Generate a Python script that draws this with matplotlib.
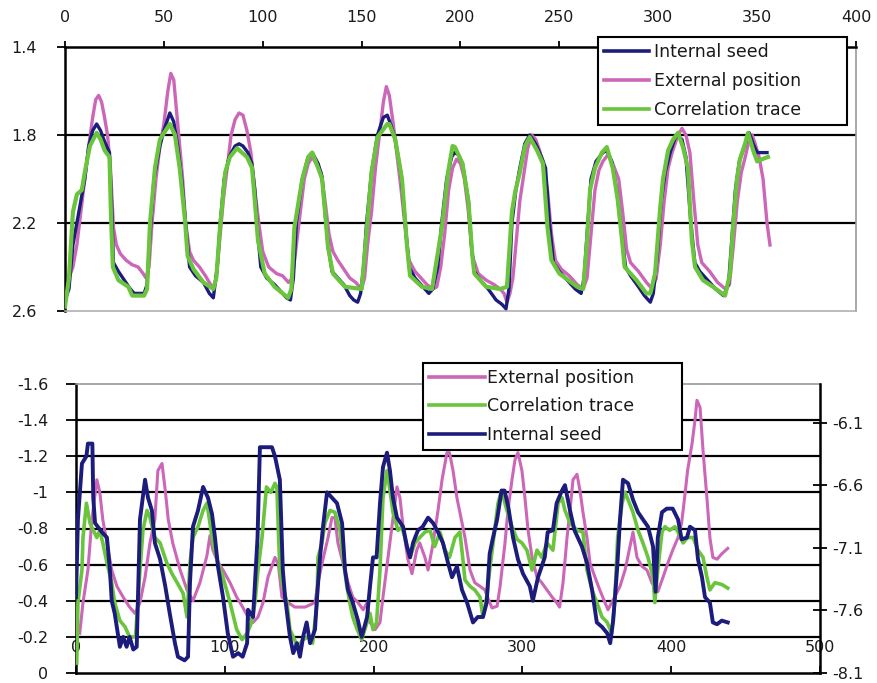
import matplotlib
matplotlib.use("Agg")
import matplotlib.pyplot as plt

plt.rcParams['font.family'] = ['DejaVu Sans']

# ---------------- data: top panel (x, value) ----------------
top_labels = ["Internal seed", "External position", "Correlation trace"]

top_internal = [
    (0, 2.55), (2, 2.5), (4, 2.3), (6, 2.2), (8, 2.1), (10, 2.0), (12, 1.85), (14, 1.78), (16, 1.75),
    (18, 1.78), (20, 1.83), (22.5, 1.88), (23.5, 2.1), (24.5, 2.38), (27, 2.42), (30, 2.46), (33, 2.5),
    (35, 2.52), (40, 2.52), (41.5, 2.48), (43, 2.25), (45, 2.0), (48, 1.85), (50, 1.78), (53, 1.70),
    (55, 1.74), (57, 1.85), (59, 2.0), (61, 2.2), (63, 2.4), (66, 2.44), (70, 2.47), (73, 2.52),
    (75, 2.54), (77, 2.4), (78.5, 2.2), (80.5, 2.0), (83, 1.9), (86, 1.85), (88, 1.84), (90, 1.85),
    (92.5, 1.88), (94.5, 1.93), (96, 2.05), (97.5, 2.25), (99, 2.4), (102, 2.45), (106, 2.48),
    (109, 2.51), (112, 2.54), (114, 2.55), (115.5, 2.45), (117, 2.2), (120, 2.0), (123, 1.9),
    (125, 1.88), (128, 1.93), (130, 1.99), (131.5, 2.15), (133, 2.3), (135, 2.42), (138, 2.45),
    (141, 2.48), (144, 2.53), (146, 2.55), (148, 2.56), (149.5, 2.52), (151, 2.4), (152.5, 2.2),
    (155, 1.97), (158, 1.8), (161, 1.72), (163, 1.71), (165, 1.76), (167, 1.82), (170, 1.98),
    (172.5, 2.25), (174, 2.4), (177, 2.45), (181, 2.49), (184, 2.52), (186, 2.5), (188.5, 2.4),
    (190.5, 2.2), (193, 2.0), (195.5, 1.9), (197, 1.88), (199, 1.89), (201, 1.93), (204, 2.1),
    (205.5, 2.3), (207, 2.42), (210, 2.46), (214, 2.5), (218, 2.55), (221, 2.57), (223, 2.59),
    (224.5, 2.5), (226, 2.2), (228, 2.05), (230, 1.95), (232.5, 1.84), (235, 1.8), (238, 1.84),
    (241, 1.9), (243, 1.95), (245, 2.2), (247, 2.38), (250, 2.42), (254, 2.46), (258, 2.5),
    (261, 2.52), (262.5, 2.45), (264, 2.25), (266, 2.0), (268.5, 1.92), (272, 1.88), (274, 1.87),
    (276.5, 1.92), (279, 2.05), (281.5, 2.25), (283.5, 2.4), (286, 2.44), (290, 2.49), (293, 2.53),
    (296, 2.56), (297.5, 2.52), (299.5, 2.35), (301.5, 2.1), (303.5, 1.97), (306, 1.88), (309, 1.8),
    (312, 1.82), (314, 1.9), (316.5, 2.2), (318.5, 2.38), (321, 2.42), (325, 2.46), (329, 2.5),
    (333, 2.53), (335.5, 2.48), (337, 2.3), (339, 2.05), (341, 1.92), (344, 1.84), (346, 1.79),
    (348, 1.84), (350, 1.88), (352, 1.88), (355, 1.88),
]

top_external = [
    (0, 2.5), (2, 2.45), (4, 2.4), (6, 2.3), (8, 2.15), (10, 2.0), (12, 1.85), (14, 1.72), (15.5, 1.64),
    (17, 1.62), (18.5, 1.65), (20, 1.72), (21.5, 1.8), (23, 1.95), (24.5, 2.22), (26, 2.3), (28, 2.34),
    (31, 2.37), (34, 2.39), (37, 2.4), (39.5, 2.43), (41, 2.45), (42.5, 2.4), (44, 2.2), (46, 2.0),
    (48, 1.85), (50, 1.75), (52, 1.6), (53.5, 1.52), (55, 1.55), (56.5, 1.7), (58, 1.85), (59.5, 2.0),
    (61, 2.2), (63, 2.33), (65, 2.37), (68, 2.4), (71, 2.44), (73, 2.47), (75, 2.5), (76.5, 2.45),
    (78, 2.3), (80, 2.1), (82, 1.95), (84, 1.8), (86, 1.73), (88, 1.7), (90, 1.71), (92, 1.78),
    (94, 1.88), (96, 2.05), (98, 2.2), (100, 2.33), (103, 2.4), (107, 2.43), (110, 2.44), (113, 2.47),
    (115, 2.45), (117, 2.3), (119, 2.15), (121, 2.0), (123, 1.93), (125, 1.9), (127, 1.93),
    (129.5, 1.97), (131.5, 2.1), (133.5, 2.25), (135.5, 2.33), (138, 2.37), (141, 2.41), (144, 2.45),
    (147, 2.47), (150, 2.5), (151.5, 2.45), (153, 2.3), (155, 2.15), (157, 1.95), (159, 1.8),
    (161, 1.65), (162.5, 1.58), (164, 1.62), (166, 1.75), (168, 1.9), (170, 2.05), (172, 2.22),
    (174, 2.37), (177, 2.42), (180, 2.45), (183, 2.48), (186, 2.5), (188, 2.49), (190, 2.4),
    (192, 2.25), (194, 2.05), (196, 1.95), (198, 1.91), (200, 1.93), (202, 2.0), (204, 2.15),
    (206, 2.35), (209, 2.43), (213, 2.46), (217, 2.48), (220, 2.5), (222, 2.52), (223.5, 2.56),
    (225, 2.52), (226.5, 2.45), (228, 2.3), (230, 2.1), (232, 1.98), (234, 1.86), (236, 1.8),
    (238, 1.82), (240, 1.87), (242, 1.95), (244, 2.05), (246, 2.25), (248, 2.37), (251, 2.41),
    (255, 2.44), (259, 2.48), (262, 2.5), (264, 2.45), (266, 2.25), (268, 2.05), (270, 1.96),
    (272, 1.92), (274.5, 1.89), (277, 1.93), (280, 2.0), (282, 2.15), (284, 2.32), (286, 2.38),
    (290, 2.42), (294, 2.47), (297, 2.5), (299, 2.45), (301, 2.3), (303, 2.1), (305, 1.95),
    (307, 1.88), (310, 1.8), (312, 1.77), (314, 1.8), (316, 1.88), (318, 2.1), (320, 2.3), (322, 2.38),
    (326, 2.42), (330, 2.47), (334, 2.5), (336, 2.48), (338, 2.3), (340, 2.1), (342, 1.97), (344, 1.9),
    (346, 1.82), (347.5, 1.8), (349, 1.84), (351, 1.9), (353, 2.0), (354, 2.1), (355, 2.2), (356.5, 2.3),
]

top_correlation = [
    (0, 2.58), (2, 2.45), (4, 2.15), (6, 2.07), (8.5, 2.05), (10, 1.97), (12.6, 1.85), (16, 1.79),
    (18, 1.82), (20, 1.87), (22.5, 1.9), (23.2, 2.15), (24.2, 2.4), (27, 2.46), (32, 2.49), (34, 2.53),
    (40, 2.53), (41.5, 2.5), (43, 2.2), (45.5, 1.95), (48, 1.82), (53, 1.75), (55.6, 1.8), (58, 1.95),
    (60.7, 2.19), (62, 2.35), (65, 2.41), (70, 2.47), (75, 2.5), (76.5, 2.45), (78.4, 2.22), (81, 1.97),
    (83.4, 1.9), (87, 1.86), (89.5, 1.88), (92, 1.9), (94.6, 1.95), (96, 2.1), (97.6, 2.28), (101, 2.43),
    (106, 2.49), (112.8, 2.54), (114.5, 2.5), (116, 2.22), (120, 2.0), (123, 1.9), (125, 1.88),
    (128, 1.95), (130, 2.0), (131.5, 2.15), (133, 2.31), (135.5, 2.43), (141.6, 2.49), (150, 2.5),
    (152.7, 2.22), (155, 1.97), (158, 1.81), (163, 1.75), (164, 1.75), (167, 1.82), (170.4, 2.0),
    (173, 2.31), (174.5, 2.44), (180.5, 2.49), (185.6, 2.5), (190.6, 2.22), (193.7, 1.97), (196, 1.85),
    (197.2, 1.855), (201, 1.93), (204, 2.1), (206, 2.35), (207, 2.43), (213, 2.49), (220, 2.5),
    (223.5, 2.49), (226, 2.15), (227.6, 2.06), (230, 1.97), (232.6, 1.85), (235, 1.81), (238.7, 1.87),
    (241.7, 1.93), (244, 2.22), (246, 2.37), (250, 2.43), (259, 2.49), (262, 2.5), (264, 2.28),
    (265.5, 2.05), (268, 1.95), (271.5, 1.88), (274, 1.855), (277, 1.95), (279.6, 2.1), (281.7, 2.28),
    (283, 2.4), (289, 2.46), (294, 2.52), (296, 2.52), (298.4, 2.43), (301, 2.13), (302.4, 2.0),
    (305, 1.87), (307.5, 1.82), (310, 1.79), (312.5, 1.855), (315, 1.95), (317, 2.28), (318.6, 2.4),
    (322.6, 2.46), (327.7, 2.49), (333.8, 2.53), (336.3, 2.43), (337.8, 2.22), (339.8, 2.0),
    (341.3, 1.91), (343.9, 1.84), (345.4, 1.79), (348, 1.87), (350, 1.92), (352.5, 1.91), (355.5, 1.9),
]

top_xticks = [0, 50, 100, 150, 200, 250, 300, 350, 400]
top_yticks = [1.4, 1.8, 2.2, 2.6]
top_ytick_labels = ["1.4", "1.8", "2.2", "2.6"]
top_grid = [1.8, 2.2]

# ---------------- data: bottom panel (x, value) ----------------
bottom_labels = ["External position", "Correlation trace", "Internal seed"]

bottom_internal = [
    (0, -0.42), (1.3, -0.85), (4, -1.16), (7, -1.2), (8, -1.27), (11, -1.27), (11.6, -0.97),
    (12.8, -0.83), (17.4, -0.78), (20.8, -0.75), (22.8, -0.57), (24, -0.4), (26, -0.33),
    (29.5, -0.145), (31.7, -0.2), (34, -0.145), (36, -0.2), (38.5, -0.13), (40.8, -0.145),
    (43, -0.85), (46.4, -1.07), (48.4, -0.97), (51, -0.9), (53, -0.72), (56.5, -0.63), (60, -0.48),
    (63, -0.33), (66.5, -0.165), (68.5, -0.09), (73, -0.07), (75.3, -0.09), (76.6, -0.5),
    (78.6, -0.81), (82, -0.9), (85.4, -1.03), (88.7, -0.97), (91.4, -0.88), (93.4, -0.75),
    (95.4, -0.59), (98.8, -0.42), (102, -0.22), (105.5, -0.09), (109, -0.11), (112, -0.09),
    (115, -0.165), (115.6, -0.35), (119, -0.31), (122, -0.75), (123.6, -1.25), (128, -1.25),
    (131.7, -1.25), (133.7, -1.2), (137, -1.07), (139, -0.57), (140.5, -0.42), (143.8, -0.2),
    (146, -0.11), (148.5, -0.165), (150.5, -0.09), (152.6, -0.2), (155, -0.28), (157.3, -0.165),
    (160.6, -0.24), (162, -0.42), (164, -0.64), (166, -0.81), (168.7, -1.0), (172, -0.97),
    (175.4, -0.94), (178.8, -0.83), (180.8, -0.57), (182.8, -0.46), (186, -0.39), (189.5, -0.29),
    (192, -0.2), (195.6, -0.31), (197.6, -0.48), (199.6, -0.64), (202, -0.64), (204.3, -0.94),
    (206.3, -1.14), (209, -1.22), (211, -1.12), (213, -0.97), (215.7, -0.86), (219.8, -0.81),
    (222.4, -0.7), (224.5, -0.64), (226.5, -0.72), (229.8, -0.79), (233, -0.81), (236.6, -0.86),
    (240, -0.83), (243.3, -0.78), (246.6, -0.72), (250, -0.61), (252.7, -0.53), (256, -0.59),
    (259.4, -0.46), (262.8, -0.39), (266.8, -0.28), (270, -0.31), (273.5, -0.31), (276, -0.39),
    (278, -0.66), (280, -0.74), (283, -0.85), (286, -1.01), (288, -1.01), (290.5, -0.92),
    (293.7, -0.75), (297, -0.63), (300.4, -0.55), (305, -0.48), (307, -0.4), (310.5, -0.53),
    (315, -0.64), (317, -0.78), (320.5, -0.79), (323, -0.94), (326.6, -1.01), (328.6, -1.04),
    (332, -0.9), (335, -0.79), (340, -0.7), (343.4, -0.61), (346.8, -0.46), (350, -0.28),
    (353.5, -0.255), (357, -0.22), (359, -0.165), (361, -0.29), (363.6, -0.57), (365.6, -0.85),
    (367.6, -1.07), (371, -1.05), (374.3, -0.96), (377.7, -0.89), (381, -0.85), (384.4, -0.81),
    (387.8, -0.7), (389.5, -0.45), (391, -0.75), (393.8, -0.89), (397, -0.91), (401, -0.91),
    (404.6, -0.85), (407, -0.74), (410.6, -0.75), (412.6, -0.81), (416, -0.79), (418, -0.63),
    (420.7, -0.53), (422.7, -0.42), (426, -0.39), (428, -0.28), (430.8, -0.27), (434, -0.29),
    (438, -0.28),
]

bottom_correlation = [
    (0.5, -0.055), (1.3, -0.39), (4, -0.57), (4.7, -0.75), (7, -0.94), (9.4, -0.83), (11.6, -0.79),
    (14, -0.75), (16, -0.79), (18, -0.72), (20.8, -0.61), (24, -0.5), (26, -0.39), (29.5, -0.29),
    (33, -0.255), (36, -0.2), (40, -0.2), (43, -0.57), (45, -0.79), (47.7, -0.9), (49.7, -0.86),
    (53, -0.75), (56.5, -0.72), (61, -0.61), (64.5, -0.55), (68, -0.5), (72, -0.44), (74.6, -0.31),
    (76.6, -0.61), (78.6, -0.75), (82, -0.81), (85.4, -0.9), (88, -0.94), (90, -0.83), (92, -0.72),
    (95.4, -0.61), (98.8, -0.53), (103.5, -0.39), (108, -0.24), (111.6, -0.185), (115, -0.22),
    (118, -0.28), (120.3, -0.39), (122.3, -0.57), (125, -0.75), (127, -0.94), (128, -1.03),
    (131, -1.0), (133.7, -1.05), (135, -1.03), (136, -0.79), (137, -0.57), (139, -0.48),
    (141.8, -0.39), (143.8, -0.24), (146, -0.2), (149, -0.145), (152.6, -0.185), (156, -0.2),
    (159, -0.165), (162, -0.39), (162.6, -0.64), (165.3, -0.72), (167.3, -0.83), (170.7, -0.9),
    (174, -0.89), (177.4, -0.79), (179.4, -0.64), (182, -0.48), (184, -0.39), (186, -0.31),
    (189, -0.24), (192, -0.185), (195.6, -0.28), (197.6, -0.33), (199.6, -0.24), (202, -0.28),
    (204.3, -0.57), (206.3, -0.97), (209, -1.12), (211, -1.01), (213, -0.89), (216.4, -0.79),
    (219, -0.81), (221, -0.75), (224.5, -0.64), (227.8, -0.72), (231, -0.75), (234.5, -0.78),
    (238, -0.79), (241, -0.7), (244.6, -0.78), (248, -0.68), (251, -0.64), (254.7, -0.75),
    (258, -0.78), (260, -0.63), (261.4, -0.515), (264.8, -0.48), (268, -0.46), (271.5, -0.42),
    (273.5, -0.31), (276, -0.42), (278, -0.57), (280, -0.7), (283.6, -0.94), (286, -1.01),
    (289.6, -0.9), (293, -0.81), (296.4, -0.74), (299.7, -0.72), (303, -0.68), (306.5, -0.57),
    (309.8, -0.68), (313, -0.64), (316.5, -0.72), (320.5, -0.68), (324, -0.94), (326.6, -0.97),
    (328.6, -0.9), (332, -0.83), (336.7, -0.79), (340.7, -0.78), (343.4, -0.57), (346.8, -0.46),
    (350, -0.39), (353.5, -0.31), (357, -0.28), (360, -0.22), (362, -0.39), (364, -0.75),
    (367, -0.94), (369, -1.0), (371, -0.96), (374.3, -0.89), (377.7, -0.79), (381, -0.72),
    (384.4, -0.64), (387.8, -0.53), (389, -0.39), (391, -0.57), (393.8, -0.78), (395.8, -0.81),
    (399, -0.79), (402.5, -0.81), (404.6, -0.78), (408, -0.72), (411, -0.75), (414.7, -0.75),
    (418, -0.68), (421.4, -0.64), (424, -0.53), (426, -0.46), (429.4, -0.5), (434, -0.49),
    (438, -0.47),
]

bottom_external = [
    (2.5, -0.22), (4.7, -0.39), (8, -0.57), (10.7, -0.85), (14, -1.07), (16, -1.0), (18, -0.85),
    (20.8, -0.72), (24, -0.57), (27.5, -0.48), (31.7, -0.42), (36, -0.365), (39.7, -0.33),
    (43, -0.39), (46.4, -0.53), (49.7, -0.72), (53, -0.85), (55, -1.12), (57.8, -1.16), (60, -1.01),
    (62, -0.85), (65, -0.72), (70, -0.57), (74.6, -0.46), (78.6, -0.4), (83.3, -0.5), (88, -0.65),
    (90, -0.76), (92, -0.68), (95, -0.62), (98.8, -0.57), (103.5, -0.5), (108, -0.42),
    (112, -0.365), (115.6, -0.31), (119, -0.28), (122.3, -0.31), (125.7, -0.39), (129, -0.53),
    (133.7, -0.64), (136, -0.6), (138.4, -0.42), (142.5, -0.39), (147, -0.365), (154, -0.365),
    (160.6, -0.39), (162.6, -0.5), (166, -0.63), (169.4, -0.75), (172, -0.86), (174, -0.86),
    (176, -0.72), (179.4, -0.61), (182.8, -0.5), (186, -0.42), (189.5, -0.39), (193, -0.35),
    (195.6, -0.39), (197.6, -0.28), (201, -0.24), (204.3, -0.28), (206.3, -0.42), (209.7, -0.64),
    (213, -0.85), (215.7, -1.03), (217.7, -0.97), (219.8, -0.81), (223, -0.63), (225.8, -0.55),
    (229, -0.68), (231, -0.72), (234.5, -0.64), (236.6, -0.57), (240, -0.72), (243.3, -0.9),
    (246, -1.07), (249.3, -1.22), (251, -1.22), (253.4, -1.12), (256, -0.97), (259.4, -0.83),
    (261.4, -0.75), (264.8, -0.57), (268, -0.5), (271.5, -0.48), (274.8, -0.46), (277, -0.41),
    (279.6, -0.36), (283, -0.37), (285, -0.48), (288.3, -0.72), (290.3, -0.9), (293, -1.07),
    (295, -1.18), (297, -1.22), (299.7, -1.12), (301.7, -0.97), (303.8, -0.79), (306.5, -0.64),
    (309.8, -0.53), (313, -0.5), (316.5, -0.46), (320, -0.42), (323, -0.39), (325, -0.365),
    (327.3, -0.5), (330, -0.75), (332, -0.9), (334, -1.07), (336.7, -1.1), (338.7, -1.01),
    (340.7, -0.89), (343.4, -0.75), (345.4, -0.61), (348.8, -0.53), (352, -0.46), (355.5, -0.39),
    (357.5, -0.35), (360, -0.39), (362, -0.42), (365.6, -0.48), (369, -0.57), (372.3, -0.7),
    (374.3, -0.78), (377, -0.64), (380.4, -0.59), (383.7, -0.57), (387, -0.5), (391, -0.45),
    (394.5, -0.53), (397.8, -0.61), (401, -0.68), (404.6, -0.75), (407, -0.83), (409, -0.97),
    (411, -1.12), (414, -1.27), (416, -1.4), (417.3, -1.51), (419.4, -1.47), (421.4, -1.23),
    (424, -0.97), (426, -0.75), (428, -0.64), (430.8, -0.63), (434, -0.66), (438, -0.69),
]

bottom_xticks = [0, 100, 200, 300, 400, 500]
bottom_yticks = [-1.6, -1.4, -1.2, -1.0, -0.8, -0.6, -0.4, -0.2, 0]
bottom_ytick_labels = ["-1.6", "-1.4", "-1.2", "-1", "-0.8", "-0.6", "-0.4", "-0.2", "0"]
bottom_grid = [-1.4, -1.2, -1.0, -0.8, -0.6, -0.4, -0.2]
right_yticks = [-8.1, -7.6, -7.1, -6.6, -6.1]
right_ytick_labels = ["-8.1", "-7.6", "-7.1", "-6.6", "-6.1"]

# ---------------- style ----------------
C_BLUE = "#1c1c7c"
C_PINK = "#cc66b8"
C_GREEN = "#6ac43c"
TXT = "#1a1a1a"
FS_TICK = 11.5
FS_LEG = 12.5

fig = plt.figure(figsize=(8.78, 6.83), dpi=100)
fig.patch.set_facecolor("white")

# ================= top panel =================
ax1 = fig.add_axes([65 / 878, 1 - 311 / 683, (856 - 65) / 878, (311 - 47) / 683])
for yv in top_grid:
    ax1.axhline(yv, color="black", lw=1.6, zorder=1)

def xy(pairs):
    return [p[0] for p in pairs], [p[1] for p in pairs]

x, y = xy(top_external)
l_ext, = ax1.plot(x, y, color=C_PINK, lw=2.4, zorder=2, label=top_labels[1])
x, y = xy(top_internal)
l_int, = ax1.plot(x, y, color=C_BLUE, lw=2.4, zorder=3, label=top_labels[0])
x, y = xy(top_correlation)
l_cor, = ax1.plot(x, y, color=C_GREEN, lw=3.0, zorder=4, label=top_labels[2])

ax1.set_xlim(0, 400)
ax1.set_ylim(2.6, 1.4)
ax1.xaxis.tick_top()
ax1.set_xticks(top_xticks)
ax1.set_xticklabels([str(v) for v in top_xticks])
ax1.set_yticks(top_yticks)
ax1.set_yticklabels(top_ytick_labels)
ax1.tick_params(axis="x", direction="out", length=4, width=1.3, pad=12,
                labelsize=FS_TICK, labelcolor=TXT, color="black")
ax1.tick_params(axis="y", direction="out", length=6, width=1.3, pad=14,
                labelsize=FS_TICK, labelcolor=TXT, color="black")
ax1.spines["top"].set_linewidth(1.8)
ax1.spines["left"].set_linewidth(1.8)
ax1.spines["right"].set_color("#9a9a9a")
ax1.spines["bottom"].set_color("#b0b0b0")
ax1.spines["right"].set_linewidth(1.2)
ax1.spines["bottom"].set_linewidth(1.2)

leg1 = ax1.legend(handles=[l_int, l_ext, l_cor], labels=top_labels,
                  loc="upper left", mode="expand",
                  bbox_to_anchor=(598 / 878, 1 - 37 / 683 - 0.2, (847 - 598) / 878, 0.2),
                  bbox_transform=fig.transFigure, borderaxespad=0,
                  fontsize=FS_LEG, frameon=True, fancybox=False, framealpha=1,
                  edgecolor="black", handlelength=2.6, handletextpad=0.3,
                  labelspacing=0.62, borderpad=0.35)
leg1.get_frame().set_linewidth(1.5)
for t in leg1.get_texts():
    t.set_color(TXT)
for h in leg1.legend_handles:
    h.set_linewidth(2.6)

# ================= bottom panel =================
ax2 = fig.add_axes([76 / 878, 1 - 673 / 683, (820 - 76) / 878, (673 - 384) / 683])
for yv in bottom_grid:
    ax2.axhline(yv, color="black", lw=1.6, zorder=1)

x, y = xy(bottom_external)
b_ext, = ax2.plot(x, y, color=C_PINK, lw=2.2, zorder=2, label=bottom_labels[0])
x, y = xy(bottom_correlation)
b_cor, = ax2.plot(x, y, color=C_GREEN, lw=2.6, zorder=3, label=bottom_labels[1])
x, y = xy(bottom_internal)
b_int, = ax2.plot(x, y, color=C_BLUE, lw=2.8, zorder=4, label=bottom_labels[2])

ax2.set_xlim(0, 500)
ax2.set_ylim(0, -1.6)
ax2.set_xticks(bottom_xticks)
ax2.set_xticklabels([str(v) for v in bottom_xticks])
ax2.set_yticks(bottom_yticks)
ax2.set_yticklabels(bottom_ytick_labels)
ax2.tick_params(axis="x", direction="in", length=5, width=1.3, pad=-24,
                labelsize=FS_TICK, labelcolor=TXT, color="black")
ax2.tick_params(axis="y", direction="out", length=7, width=1.3, pad=13,
                labelsize=FS_TICK, labelcolor=TXT, color="black")
ax2.spines["left"].set_linewidth(1.8)
ax2.spines["bottom"].set_linewidth(1.8)
ax2.spines["top"].set_color("#9a9a9a")
ax2.spines["top"].set_linewidth(1.2)
ax2.spines["right"].set_visible(False)

ax2r = ax2.twinx()
ax2r.set_ylim(-8.1, -5.788)
ax2r.set_yticks(right_yticks)
ax2r.set_yticklabels(right_ytick_labels)
ax2r.tick_params(axis="y", direction="inout", length=10, width=1.3, pad=4,
                 labelsize=FS_TICK, labelcolor=TXT, color="black")
for s in ["top", "left", "bottom"]:
    ax2r.spines[s].set_visible(False)
ax2r.spines["right"].set_linewidth(1.8)

leg2 = ax2r.legend(handles=[b_ext, b_cor, b_int], labels=bottom_labels,
                   loc="upper left", mode="expand",
                   bbox_to_anchor=(423 / 878, 1 - 363 / 683 - 0.2, (682 - 423) / 878, 0.2),
                   bbox_transform=fig.transFigure, borderaxespad=0,
                   fontsize=FS_LEG, frameon=True, fancybox=False, framealpha=1,
                   edgecolor="black", handlelength=3.2, handletextpad=0.15,
                   labelspacing=0.6, borderpad=0.35)
leg2.get_frame().set_linewidth(1.5)
for t in leg2.get_texts():
    t.set_color(TXT)
for h in leg2.legend_handles:
    h.set_linewidth(2.6)

fig.savefig("out.png", dpi=100, facecolor="white")
